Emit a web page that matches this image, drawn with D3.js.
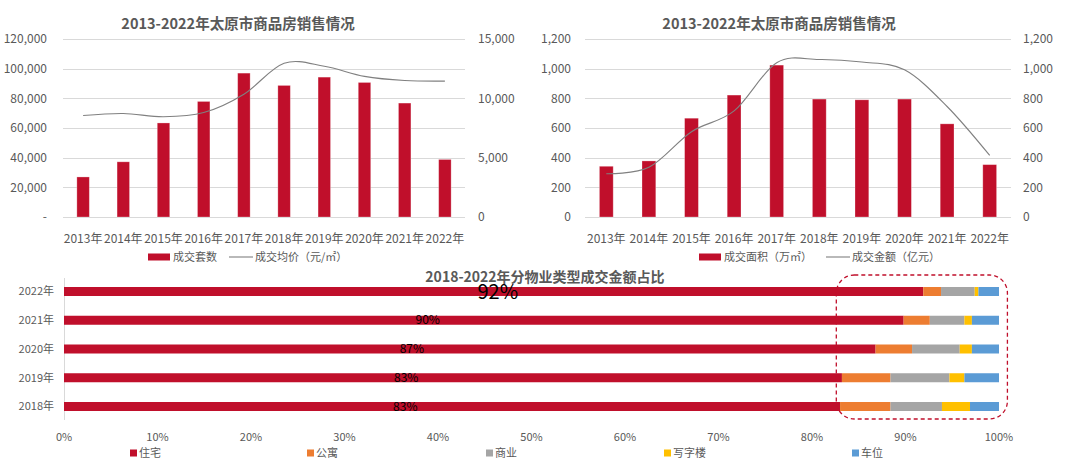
<!DOCTYPE html>
<html><head><meta charset="utf-8">
<script src="https://cdn.jsdelivr.net/npm/d3@7/dist/d3.min.js"></script>
<style>
html,body{margin:0;padding:0;background:#fff;}
svg{display:block;font-family:"Noto Sans CJK SC","Noto Sans",sans-serif;}
</style></head>
<body>
<svg id="c" width="1080" height="473"></svg>
<script>
// ---------- data ----------
const years = ['2013年','2014年','2015年','2016年','2017年','2018年','2019年','2020年','2021年','2022年'];
const unitsSold = [27000, 37200, 63400, 77900, 97000, 88700, 94300, 90700, 76800, 38800];   // 成交套数
const avgPrice  = [8550, 8720, 8450, 8800, 10350, 12950, 12700, 11850, 11500, 11450];      // 成交均价
const areaSold  = [342, 378, 666, 822, 1024, 795, 790, 795, 628, 353];                     // 成交面积（万㎡）
const amountSold= [292, 335, 575, 715, 1040, 1062, 1045, 992, 745, 415];                   // 成交金额（亿元）
const leftTicksA  = [0, 20000, 40000, 60000, 80000, 100000, 120000];
const rightTicksA = [0, 5000, 10000, 15000];
const ticksB      = [0, 200, 400, 600, 800, 1000, 1200];

const shareYears  = ['2022年','2021年','2020年','2019年','2018年'];
const typeNames   = ['住宅','公寓','商业','写字楼','车位'];
const residential = [91.9, 89.8, 86.8, 83.2, 83.0];
const apartment   = [1.9, 2.8, 3.9, 5.2, 5.4];
const commercial  = [3.6, 3.7, 5.1, 6.3, 5.5];
const office      = [0.4, 0.8, 1.3, 1.6, 3.0];
const parking     = [2.2, 2.9, 2.9, 3.7, 3.1];
const shareLabels = ['92%','90%','87%','83%','83%'];
const pctTicks    = [0,10,20,30,40,50,60,70,80,90,100];

// ---------- style ----------
const RED = '#C00F2B', GRID = '#D9D9D9', TXT = '#595959', LINE = '#808080';
const typeColors = ['#C00F2B','#ED7D31','#A5A5A5','#FFC000','#5B9BD5'];
const svg = d3.select('#c');

function topChart(cfg){
  const g = svg.append('g');
  const x = d3.scaleBand().domain(years).range([cfg.x0, cfg.x1]).paddingInner(cfg.pad).paddingOuter(cfg.pad/2);
  const yL = d3.scaleLinear().domain([0, cfg.lMax]).range([217, 39]);
  const yR = d3.scaleLinear().domain([0, cfg.rMax]).range([217, 39]);
  // grid
  g.selectAll('.gl').data(cfg.lTicks).join('line')
    .attr('x1', cfg.x0).attr('x2', cfg.x1)
    .attr('y1', d => Math.round(yL(d))+0.5).attr('y2', d => Math.round(yL(d))+0.5)
    .attr('stroke', GRID).attr('stroke-width', 1);
  // left labels
  g.selectAll('.ll').data(cfg.lTicks).join('text')
    .attr('x', cfg.lLabX).attr('y', d => yL(d)).attr('dy','0.35em')
    .attr('text-anchor','end').attr('fill', TXT).attr('font-size', 12)
    .text(cfg.lFmt);
  // right labels
  g.selectAll('.rl').data(cfg.rTicks).join('text')
    .attr('x', cfg.rLabX).attr('y', d => yR(d)).attr('dy','0.35em')
    .attr('text-anchor','start').attr('fill', TXT).attr('font-size', 12)
    .text(d3.format(','));
  // bars
  g.selectAll('.bar').data(cfg.bars).join('rect')
    .attr('x', (d,i) => x(years[i])).attr('width', x.bandwidth())
    .attr('y', d => yL(d)).attr('height', d => yL(0) - yL(d))
    .attr('fill', RED).attr('stroke','rgba(255,255,255,0.35)').attr('stroke-width',0.8);
  // line (smoothed)
  const line = d3.line().x((d,i) => x(years[i]) + x.bandwidth()/2).y(d => yR(d)).curve(d3.curveCardinal.tension(0));
  g.append('path').datum(cfg.line).attr('d', line).attr('fill','none').attr('stroke', LINE).attr('stroke-width',1.1);
  // x labels
  g.selectAll('.xl').data(years).join('text')
    .attr('x', d => x(d) + x.bandwidth()/2).attr('y', 243)
    .attr('text-anchor','middle').attr('fill', TXT).attr('font-size', 12).text(d => d);
  // title
  g.append('text').attr('x', cfg.titleX).attr('y', 29).attr('text-anchor','middle')
    .attr('fill', TXT).attr('font-size', 14.5).attr('font-weight','bold')
    .text('2013-2022年太原市商品房销售情况');
  // legend
  g.append('rect').attr('x', cfg.legX).attr('y', 253.5).attr('width', 22).attr('height', 7).attr('fill', RED);
  g.append('text').attr('x', cfg.legX + 25).attr('y', 257).attr('dy','0.35em').attr('fill', TXT).attr('font-size', 11).text(cfg.barName);
  g.append('line').attr('x1', cfg.legX2).attr('x2', cfg.legX2 + 24).attr('y1', 257).attr('y2', 257).attr('stroke', LINE).attr('stroke-width', 1.1);
  g.append('text').attr('x', cfg.legX2 + 26).attr('y', 257).attr('dy','0.35em').attr('fill', TXT).attr('font-size', 11).text(cfg.lineName);
}

topChart({x0:63, x1:465, pad:0.69, lMax:120000, rMax:15000, lTicks:leftTicksA, rTicks:rightTicksA,
  lLabX:47, rLabX:478, lFmt: d => d === 0 ? '-' : d3.format(',')(d),
  bars: unitsSold, line: avgPrice, titleX: 238, legX: 148, legX2: 229,
  barName:'成交套数', lineName:'成交均价（元/㎡）'});

topChart({x0:585, x1:1011, pad:0.676, lMax:1200, rMax:1200, lTicks:ticksB, rTicks:ticksB,
  lLabX:571, rLabX:1023, lFmt: d3.format(','),
  bars: areaSold, line: amountSold, titleX: 779, legX: 699, legX2: 826,
  barName:'成交面积（万㎡）', lineName:'成交金额（亿元）'});

// ---------- bottom stacked chart ----------
(function(){
  const g = svg.append('g');
  const x = d3.scaleLinear().domain([0,100]).range([64, 999]);
  const y = d3.scaleBand().domain(shareYears).range([278, 420]).paddingInner(0.687).paddingOuter(0.313);
  const series = [residential, apartment, commercial, office, parking];
  const rows = shareYears.map((yr,i) => {
    const o = {year: yr};
    typeNames.forEach((t,k) => o[t] = series[k][i]);
    return o;
  });
  const stacked = d3.stack().keys(typeNames)(rows);
  // axis line
  g.append('line').attr('x1', 64.5).attr('x2', 64.5).attr('y1', 278).attr('y2', 420).attr('stroke', GRID).attr('stroke-width', 1);
  stacked.forEach((s,k) => {
    g.selectAll('.s'+k).data(s).join('rect')
      .attr('x', d => x(d[0])).attr('width', d => x(d[1]) - x(d[0]))
      .attr('y', d => y(d.data.year)).attr('height', y.bandwidth())
      .attr('fill', typeColors[k]);
  });
  // y labels
  g.selectAll('.yl').data(shareYears).join('text')
    .attr('x', 54).attr('y', d => y(d) + y.bandwidth()/2).attr('dy','0.35em')
    .attr('text-anchor','end').attr('fill', TXT).attr('font-size', 11).text(d => d);
  // x labels
  g.selectAll('.xl').data(pctTicks).join('text')
    .attr('x', d => x(d)).attr('y', 437).attr('dy','0.35em')
    .attr('text-anchor','middle').attr('fill', TXT).attr('font-size', 11).text(d => d + '%');
  // title
  g.append('text').attr('x', 545).attr('y', 282).attr('text-anchor','middle')
    .attr('fill', TXT).attr('font-size', 14).attr('font-weight','bold').text('2018-2022年分物业类型成交金额占比');
  // data labels (placement as in the reference)
  const labelAt = [46.4, 38.9, 37.2, 36.6, 36.5];
  g.selectAll('.dl').data(shareLabels).join('text')
    .attr('x', (d,i) => x(labelAt[i])).attr('y', (d,i) => y(shareYears[i]) + y.bandwidth()/2 + (i === 0 ? 1 : 0)).attr('dy','0.35em')
    .attr('text-anchor','middle').attr('fill', '#000').attr('font-size', (d,i) => i === 0 ? 20 : 12).text(d => d);
  // dashed highlight box
  g.append('rect').attr('x', x(82.6)).attr('y', 275).attr('width', x(100.9) - x(82.6)).attr('height', 144)
    .attr('rx', 18).attr('ry', 18).attr('fill','none').attr('stroke', '#C00F2B').attr('stroke-width', 1.3).attr('stroke-dasharray','4,3');
  // legend
  const legXs = [130, 307, 486, 664, 852];
  typeNames.forEach((t,k) => {
    g.append('rect').attr('x', legXs[k]).attr('y', 449.5).attr('width', 7).attr('height', 7).attr('fill', typeColors[k]);
    g.append('text').attr('x', legXs[k] + 9).attr('y', 453).attr('dy','0.35em').attr('fill', TXT).attr('font-size', 11).text(t);
  });
})();
</script>
</body></html>
